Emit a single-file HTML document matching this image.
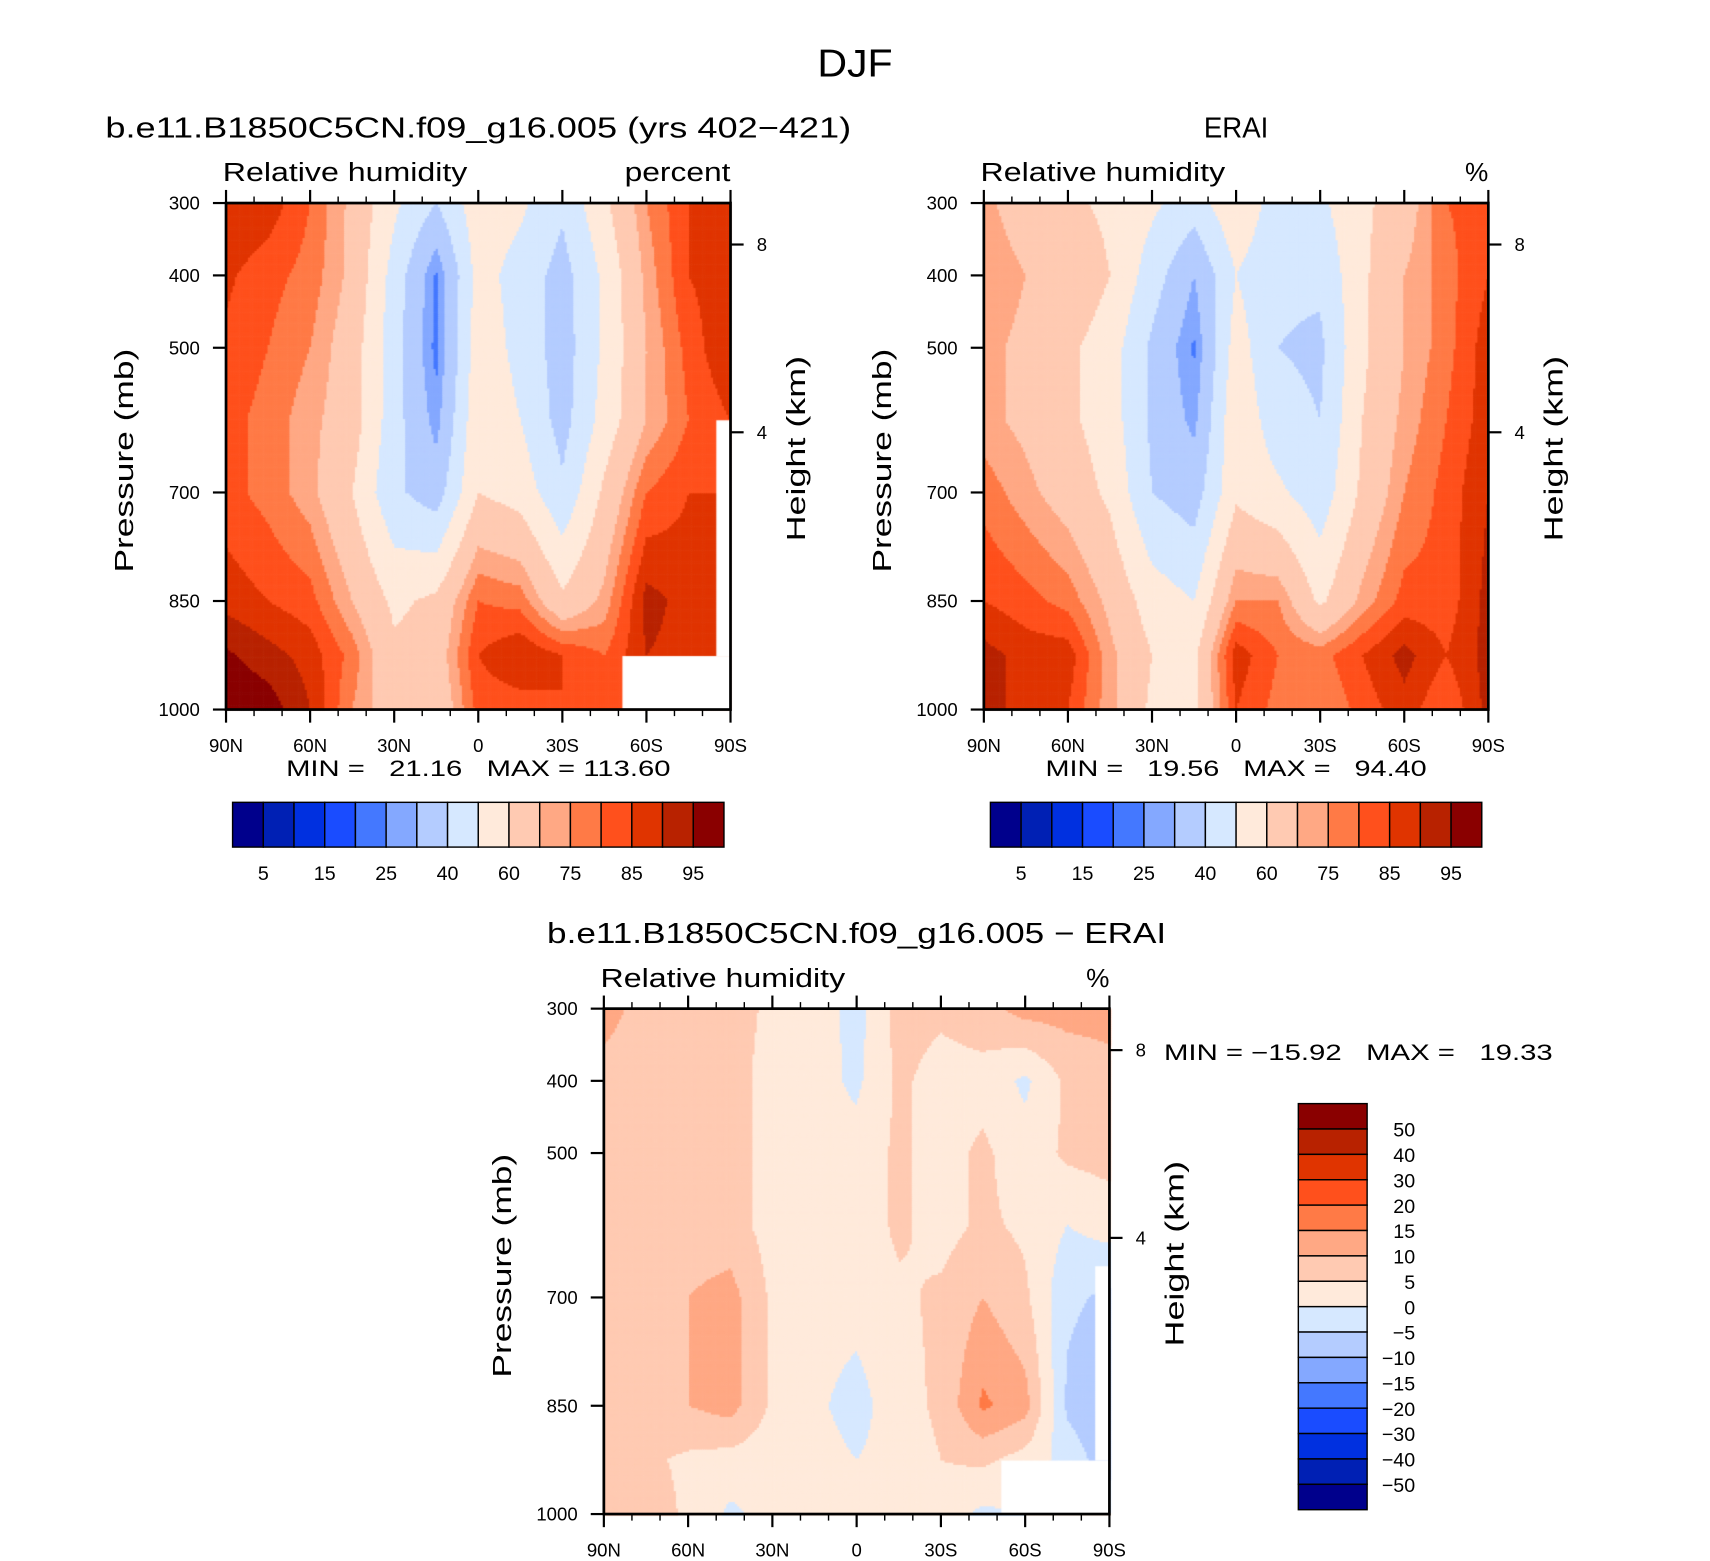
<!DOCTYPE html>
<html><head><meta charset="utf-8"><style>
html,body{margin:0;padding:0;background:#fff;}
#wrap{position:relative;width:1710px;height:1561px;overflow:hidden;}
canvas,svg{position:absolute;left:0;top:0;}
text{font-family:"Liberation Sans",sans-serif;fill:#000;}
</style></head><body>
<div id="wrap">
<canvas id="cv" width="1710" height="1561"></canvas>
<svg id="sv" width="1710" height="1561" viewBox="0 0 1566 1430" preserveAspectRatio="none"></svg>
</div>
<script>
// ---- data ----
const lats = [90,75,60,45,30,15,0,-15,-30,-45,-60,-75,-90];
const levels = [300,400,500,600,700,850,925,1000];
const modelRH = [
 [90,88,80,68,52,40,56,52,42,58,75,85,90],
 [86,82,78,68,46,24,54,46,36,52,72,85,88],
 [84,80,75,65,44,23,56,47,35,52,70,82,90],
 [82,78,72,65,44,27,58,50,36,54,70,80,85],
 [82,78,72,60,42,35,60,56,42,62,80,85,85],
 [88,85,82,70,58,62,80,78,62,72,92,88,85],
 [96,92,88,78,62,65,85,90,85,80,90,88,85],
 [100,98,90,75,65,62,82,82,85,80,88,86,85]];
const eraRH = [
 [72,65,62,58,52,45,58,45,48,58,65,80,82],
 [75,70,68,60,45,30,50,42,42,58,70,78,85],
 [72,68,62,55,38,24,55,40,38,58,70,78,88],
 [72,68,62,55,38,28,58,44,40,60,72,80,88],
 [78,72,66,58,40,35,58,52,44,62,75,82,90],
 [85,82,78,68,55,50,75,75,58,72,82,82,92],
 [92,88,88,72,60,58,88,80,78,85,92,85,92],
 [92,88,85,72,58,58,85,78,75,82,88,80,92]];
const diffRH = [
 [12,8,7,7,4,3,-2,7,6,8,12,12,12],
 [8,7,7,7,3,2,-1,6,3,3,-1,6,8],
 [7,7,7,7,3,1,2,6,3,6,2,6,7],
 [7,7,7,7,3,1,2,6,3,6,4,0,2],
 [6,8,10,12,4,2,2,4,6,10,6,-4,-6],
 [7,8,10,12,4,1,-2,3,6,16,12,-6,-10],
 [6,6,4,3,2,2,0,2,5,6,3,-2,-8],
 [10,8,4,-1,2,1,0,3,2,-1,0,0,0]];
const rhLevels = [5,10,15,20,25,30,40,50,60,70,75,80,85,90,95];
const rhLabels = ["5","15","25","40","60","75","85","95"];
const diffLevels = [-50,-40,-30,-20,-15,-10,-5,0,5,10,15,20,30,40,50];
const colors = ['#00008c','#0020b4','#0030e0','#1a4cff','#4478ff','#84a8ff','#b4ccff','#d6e8ff','#ffeadb','#ffcab2','#ffa884','#ff7a46','#ff501c','#e03400','#b82200','#8a0000'];
const xTickLabels = ["90N","60N","30N","0","30S","60S","90S"];
const pTicks = [300,400,500,700,850,1000];
const hTicks = [[8,224-186],[4,396-186]];
</script>
<script>
const S=1710/1566, SY=1561/1430;
const cv=document.getElementById('cv'), ctx=cv.getContext('2d');
ctx.scale(S,SY);
const sv=document.getElementById('sv'), NS='http://www.w3.org/2000/svg';
function el(tag,attrs,txt,parent){const e=document.createElementNS(NS,tag);for(const k in attrs)e.setAttribute(k,attrs[k]);if(txt!==undefined)e.textContent=txt;(parent||sv).appendChild(e);return e;}
function T(x,y,size,txt,tl,anchor,parent,extra){const a={x:x,y:y,'font-size':size};if(anchor)a['text-anchor']=anchor;if(tl){a.textLength=tl;a.lengthAdjust='spacingAndGlyphs';}Object.assign(a,extra||{});return el('text',a,txt,parent);}
function sample(data,lat,p){
  let fi=(90-lat)/15; fi=Math.max(0,Math.min(lats.length-1.0001,fi));
  let j=0; while(j<levels.length-2 && p>levels[j+1]) j++;
  let fj=(p-levels[j])/(levels[j+1]-levels[j]); fj=Math.max(0,Math.min(1,fj));
  const i=Math.floor(fi), fx=fi-i;
  const a=data[j][i]*(1-fx)+data[j][i+1]*fx, b=data[j+1][i]*(1-fx)+data[j+1][i+1]*fx;
  return a*(1-fj)+b*fj;
}
function colorOf(v,lv){let k=0;while(k<lv.length&&v>=lv[k])k++;return colors[k];}
function panel(o){
  const {x0,y0,w,h,data,lv,name}=o;
  const xs=lat=>x0+(90-lat)/180*w, ys=p=>y0+(p-300)/700*h;
  const step=2;
  for(let py=0;py<h;py+=step){for(let px=0;px<w;px+=step){
    const lat=90-(px+step/2)/w*180, p=300+(py+step/2)/h*700;
    ctx.fillStyle=colorOf(sample(data,lat,p),lv);
    ctx.fillRect(x0+px,y0+py,step+0.6,step+0.6);}}
  ctx.fillStyle='#fff';
  (o.blank||[]).forEach(b=>ctx.fillRect(b[0],b[1],b[2],b[3]));
  const g=el('g',{});
  el('rect',{x:x0,y:y0,width:w,height:h,fill:'none',stroke:'#000','stroke-width':2.5},undefined,g);
  for(let lat=90;lat>=-90;lat-=10){const x=xs(lat),maj=lat%30===0,L=maj?12:6;
    el('line',{x1:x,x2:x,y1:y0,y2:y0-L,stroke:'#000','stroke-width':maj?2:1.3},undefined,g);
    el('line',{x1:x,x2:x,y1:y0+h,y2:y0+h+L,stroke:'#000','stroke-width':maj?2:1.3},undefined,g);}
  xTickLabels.forEach((t,i)=>{const tx=T(x0+i*w/6,y0+h+39,17,t,null,'middle',g);
    });
  pTicks.forEach(p=>{const y=ys(p);el('line',{x1:x0,x2:x0-12,y1:y,y2:y,stroke:'#000','stroke-width':2},undefined,g);
    const tx=T(x0-24,y+6,17,String(p),null,'end',g);
    });
  hTicks.forEach(t=>{const y=y0+t[1];el('line',{x1:x0+w,x2:x0+w+12,y1:y,y2:y,stroke:'#000','stroke-width':2},undefined,g);
    T(x0+w+24,y+6,17,String(t[0]),null,null,g);});
  const yl=el('text',{transform:`translate(${x0-85},${y0+h/2+4}) rotate(-90)`,'font-size':24,'text-anchor':'middle',textLength:205,lengthAdjust:'spacingAndGlyphs'},'Pressure (mb)',g);
  
  const hl=el('text',{transform:`translate(${x0+w+68},${y0+h/2-7}) rotate(-90)`,'font-size':24,'text-anchor':'middle',textLength:170,lengthAdjust:'spacingAndGlyphs'},'Height (km)',g);
  
  T(x0-3,y0-20,24,'Relative humidity',224,null,g);
  T(x0+w,y0-20,24,o.units,o.units.length>1?97:null,'end',g);
  const ti=T(x0+w/2,y0-60,26,o.title,o.tl,'middle',g);
  
}
function hbar(x0,y0,name){
  const g=el('g',{});
  const bw=450/16;
  colors.forEach((c,i)=>el('rect',{x:x0+i*bw,y:y0,width:bw,height:41,fill:c,stroke:'#000','stroke-width':1.3},undefined,g));
  rhLabels.forEach((t,i)=>T(x0+(2*i+1)*bw,y0+71,18,t,null,'middle',g));
}
T(783,70,36,'DJF',69,'middle');
panel({x0:207,y0:186,w:462,h:464,data:modelRH,lv:rhLevels,name:'model-panel',units:'percent',tl:683,
  title:'b.e11.B1850C5CN.f09_g16.005 (yrs 402\u2212421)',blank:[[570,601,99,49],[656,385,13,216]]});
panel({x0:901,y0:186,w:462,h:464,data:eraRH,lv:rhLevels,name:'erai-panel',units:'%',title:'ERAI',tl:59});
panel({x0:553,y0:924,w:463,h:463,data:diffRH,lv:diffLevels,name:'diff-panel',units:'%',tl:567,
  title:'b.e11.B1850C5CN.f09_g16.005 \u2212 ERAI',blank:[[917,1338,99,49],[1003,1160,13,178]]});
const ws={style:'white-space:pre'};
T(438,711,20,'MIN =   21.16   MAX = 113.60',352,'middle',null,ws);
T(1132,711,20,'MIN =   19.56   MAX =   94.40',349,'middle',null,ws);
T(1066,971,20,'MIN = \u221215.92   MAX =   19.33',356,null,null,ws);
hbar(213,735,'model-colorbar');hbar(907,735,'erai-colorbar');
(function(){const g=el('g',{});
  const x0=1189,y0=1011,bh=372/16;
  colors.slice().reverse().forEach((c,i)=>el('rect',{x:x0,y:y0+i*bh,width:63,height:bh,fill:c,stroke:'#000','stroke-width':1.3},undefined,g));
  diffLevels.slice().reverse().forEach((v,i)=>T(1296,y0+(i+1)*bh+7,18,String(v).replace('-','\u2212'),null,'end',g));
})();
</script>
</body></html>
